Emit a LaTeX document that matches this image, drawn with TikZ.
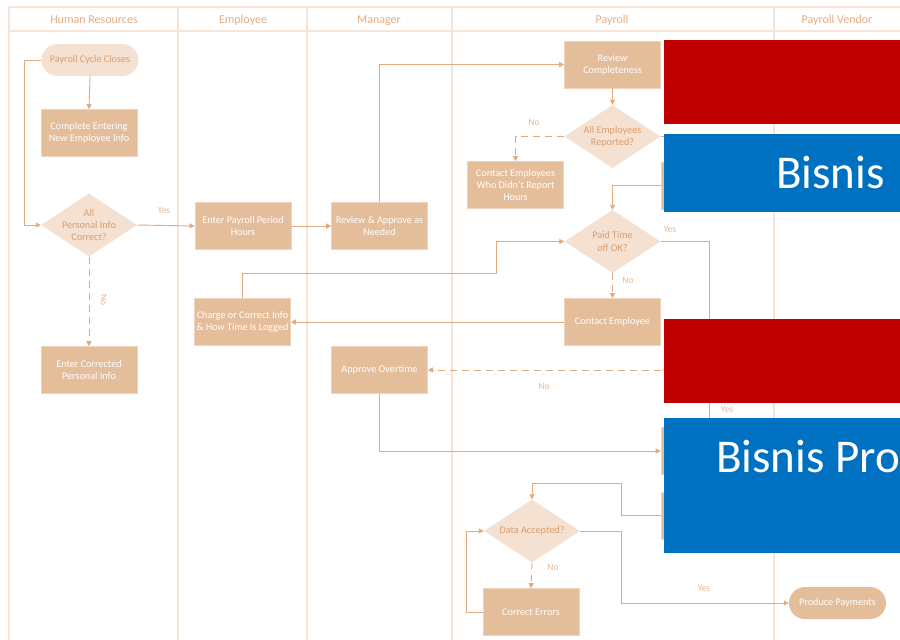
\documentclass[tikz,border=0pt]{standalone}
\usepackage{fontspec}
\setmainfont{Carlito}
\usetikzlibrary{shapes.geometric,arrows.meta}

\definecolor{lane}{HTML}{F6E4D8}
\definecolor{lanetext}{HTML}{E2AD86}
\definecolor{boxfill}{HTML}{E4BD9B}
\definecolor{boxedge}{HTML}{EFD3BB}
\definecolor{decfill}{HTML}{F5E1D2}
\definecolor{dectext}{HTML}{D99D6C}
\definecolor{flow}{HTML}{E2AB7F}
\definecolor{flowlabel}{HTML}{E6B893}
\definecolor{slidered}{HTML}{C00000}
\definecolor{slideblue}{HTML}{0070C0}

\newcommand\flowfont{\fontsize{10.2}{12.2}\selectfont}
\newcommand\lanefont{\fontsize{12}{14}\selectfont}
\newcommand\tagfont{\fontsize{9.5}{11}\selectfont}

\tikzset{
  laneline/.style={draw=lane, line width=1.6pt},
  lanehead/.style={text=lanetext, font=\lanefont, anchor=base},
  proc/.style={rectangle, fill=boxfill, draw=boxedge, line width=0.6pt,
    minimum width=96pt, minimum height=47pt, inner sep=1pt,
    align=center, text=white, font=\flowfont},
  termlight/.style={rectangle, rounded corners=16pt, fill=decfill, draw=none,
    minimum width=97pt, minimum height=32pt, text=dectext, font=\flowfont},
  termdark/.style={rectangle, rounded corners=16pt, fill=boxfill, draw=none,
    minimum width=97pt, minimum height=32pt, text=white, font=\flowfont},
  dec/.style={diamond, fill=decfill, draw=none, inner sep=0pt,
    minimum width=96pt, minimum height=63pt},
  dectxt/.style={text=dectext, font=\flowfont, align=center},
  flowline/.style={draw=flow, line width=0.9pt},
  flowarrow/.style={flowline, -{Triangle[length=5pt,width=5pt]}},
  noflow/.style={flowarrow, dash pattern=on 7pt off 5pt},
  tag/.style={text=flowlabel, font=\tagfont},
  overlay/.style={draw=none, minimum width=236pt, anchor=north west, inner sep=0pt},
  bigtext/.style={text=white, font=\fontsize{47}{52}\selectfont, anchor=base west, inner sep=0pt}
}

\begin{document}
\begin{tikzpicture}[x=1pt, y=-1pt]
\useasboundingbox (0,0) rectangle (900,640);
\clip (0,0) rectangle (900,640);
\fill[white] (0,0) rectangle (900,640);

% swimlane grid
\draw[laneline] (9,7) -- (900,7);
\draw[laneline] (9,31) -- (900,31);
\foreach \lx in {9,178,307,452,774}
  \draw[laneline] (\lx,7) -- (\lx,640);

\node[lanehead] (hHR)  at (94,23.5)  {Human Resources};
\node[lanehead] (hEmp) at (243,23.5) {Employee};
\node[lanehead] (hMgr) at (379,23.5) {Manager};
\node[lanehead] (hPay) at (612,23.5) {Payroll};
\node[lanehead] (hVen) at (837,23.5) {Payroll Vendor};

% Human Resources lane
\node[termlight] (pcc) at (90,60) {Payroll Cycle Closes};
\node[proc] (cen) at (89,133) {Complete Entering\\New Employee Info};
\node[dec, label={[dectxt]center:{All\\Personal Info\\Correct?}}] (d1) at (89,225) {};
\node[proc] (ecp) at (89,370) {Enter Corrected\\Personal Info};

% Employee lane
\node[proc] (eph) at (243,226) {Enter Payroll Period\\Hours};
\node[proc] (ch) at (242.5,322) {Charge or Correct Info\\\& How Time Is Logged};

% Manager lane
\node[proc] (ra) at (379.5,226) {Review \& Approve as\\Needed};
\node[proc] (ao) at (379.5,370) {Approve Overtime};

% Payroll lane
\node[proc] (rc) at (612.5,64.5) {Review\\Completeness};
\node[dec, label={[dectxt]center:{All Employees\\Reported?}}] (d2) at (612.5,136.5) {};
\node[proc] (cer) at (515.5,185) {Contact Employees\\Who Didn't Report\\Hours};
\node[proc] (hb1) at (709,185.5) {};
\node[dec, label={[dectxt]center:{Paid Time\\off OK?}}] (d3) at (612.5,241.5) {};
\node[proc] (cemp) at (612.5,322) {Contact Employee};
\node[dec] (d4) at (709,370) {};
\node[proc] (hb2) at (709,451) {};
\node[proc] (hb3) at (709,515.5) {};
\node[dec, label={[dectxt]center:{Data Accepted?}}] (da) at (532,531) {};
\node[proc] (cerr) at (531,612) {Correct Errors};

% Payroll Vendor lane
\node[termdark] (pp) at (837.5,603) {Produce Payments};

% connectors
\draw[flowarrow] (pcc.south) -- (cen.north);
\draw[flowarrow] (pcc.west) -- ++(-17,0) |- (d1.west);
\draw[flowarrow] (d1.east) -- (eph.west);
\draw[noflow] (d1.south) -- (ecp.north);
\draw[flowarrow] (eph.east) -- (ra.west);
\draw[flowarrow] (ra.north) |- (rc.west);
\draw[flowarrow] (rc.south) -- (d2.north);
\draw[noflow] (d2.west) -| (cer.north);
\draw[flowarrow] (d2.east) -| (hb1.north);
\draw[flowarrow] (hb1.west) -| (d3.north);
\draw[noflow] (d3.south) -- (cemp.north);
\draw[flowarrow] (cemp.west) -- (ch.east);
\draw[flowarrow] (ch.north) -- (242.5,273) -- (496,273) |- (d3.west);
\draw[flowarrow] (d3.east) -| (d4.north);
\draw[noflow] (d4.west) -- (ao.east);
\draw[flowarrow] (d4.south) -- (hb2.north);
\draw[flowarrow] (ao.south) |- (hb2.west);
\draw[flowarrow] (hb2.south) -- (hb3.north);
\draw[flowarrow] (hb3.west) -- (621,515.5) |- (532,483) -- (da.north);
\draw[noflow] (da.south) -- (cerr.north);
\draw[flowarrow] (cerr.west) -- ++(-16,0) |- (da.west);
\draw[flowarrow] (da.east) -- (621,531) |- (pp.west);

% branch labels
\node[tag] (y1) at (164,210) {Yes};
\node[tag, rotate=-90] (n1) at (104,300) {No};
\node[tag] (n2) at (534,122) {No};
\node[tag] (y2) at (673,120) {Yes};
\node[tag] (y3) at (670,229) {Yes};
\node[tag] (n3) at (628,280) {No};
\node[tag] (n4) at (544,386) {No};
\node[tag] (y4) at (727,409) {Yes};
\node[tag] (n5) at (553,567) {No};
\node[tag] (y5) at (704,588) {Yes};

% coloured panels laid over the chart
\node[overlay, fill=slidered, minimum height=84pt] (red1) at (664,40) {};
\node[overlay, fill=slideblue, minimum height=78pt] (blue1) at (664,134) {};
\node[overlay, fill=slidered, minimum height=84pt] (red2) at (664,319) {};
\node[overlay, fill=slideblue, minimum height=135pt] (blue2) at (664,418) {};
\node[bigtext] (t1) at (776,188) {Bisnis};
\node[bigtext] (t2) at (716,472) {Bisnis Pro};
\end{tikzpicture}
\end{document}
